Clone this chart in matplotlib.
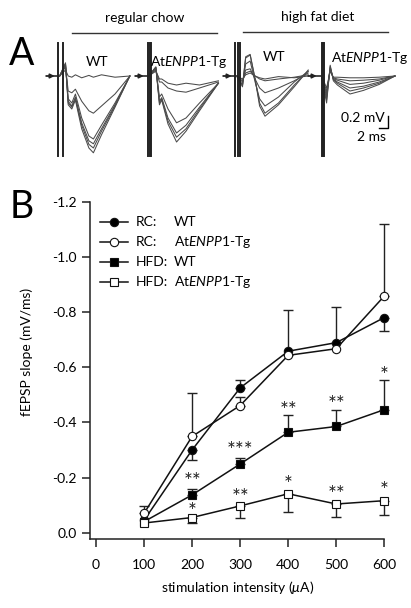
import numpy as np
import matplotlib
matplotlib.use("Agg")
import matplotlib.pyplot as plt

plt.rcParams['font.family'] = ['Lato', 'DejaVu Sans']
plt.rcParams['mathtext.fontset'] = 'custom'
plt.rcParams['mathtext.rm'] = 'Lato'
plt.rcParams['mathtext.it'] = 'Lato:italic'
plt.rcParams['mathtext.bf'] = 'Lato:bold'

# ---------------- datos panel B ----------------
intensidad = [100, 200, 300, 400, 500, 600]

rc_wt = [-0.045, -0.300, -0.525, -0.658, -0.689, -0.780]
rc_tg = [-0.070, -0.349, -0.461, -0.643, -0.667, -0.858]
hfd_wt = [-0.040, -0.137, -0.249, -0.364, -0.385, -0.446]
hfd_tg = [-0.035, -0.055, -0.097, -0.141, -0.104, -0.116]

# barras de error: "arriba" = mas negativo, "abajo" = hacia cero
rc_wt_up = [0.0, 0.0, 0.030, 0.0, 0.130, 0.0]
rc_wt_dn = [0.0, 0.038, 0.0, 0.0, 0.0, 0.047]
rc_tg_up = [0.025, 0.158, 0.030, 0.163, 0.0, 0.261]
rc_tg_dn = [0.0, 0.0, 0.0, 0.0, 0.0, 0.0]
hfd_wt_up = [0.0, 0.021, 0.021, 0.064, 0.059, 0.109]
hfd_wt_dn = [0.0, 0.0, 0.0, 0.0, 0.0, 0.0]
hfd_tg_up = [0.0, 0.0, 0.0, 0.0, 0.0, 0.0]
hfd_tg_dn = [0.0, 0.021, 0.045, 0.065, 0.046, 0.052]

# asteriscos (posicion y, texto)
estrellas_wt_y = [-0.204, -0.313, -0.461, -0.483, -0.585]
estrellas_wt_txt = ["**", "***", "**", "**", "*"]
estrellas_tg_y = [-0.095, -0.143, -0.192, -0.155, -0.170]
estrellas_tg_txt = ["*", "**", "*", "**", "*"]

yticks = [0.0, -0.2, -0.4, -0.6, -0.8, -1.0, -1.2]
xticks = [0, 100, 200, 300, 400, 500, 600]

# ---------------- datos panel A (ms, mV) ----------------
t1 = [-2.2, -0.3, 1.0, 1.6, 2.4, 3.2, 4.6, 6.2, 7.2, 9.0, 12.0, 15.3]
g1 = [
    [0, 0, 0.10, 0.00, -0.02, 0.02, -0.03, 0.01, -0.02, 0.02, -0.02, 0.00],
    [0, 0, 0.15, -0.25, -0.28, -0.22, -0.42, -0.58, -0.62, -0.50, -0.30, 0.00],
    [0, 0, 0.18, -0.38, -0.45, -0.30, -0.70, -1.00, -1.05, -0.82, -0.45, 0.00],
    [0, 0, 0.20, -0.42, -0.50, -0.35, -0.78, -1.08, -1.13, -0.88, -0.48, 0.00],
    [0, 0, 0.20, -0.45, -0.52, -0.38, -0.82, -1.14, -1.20, -0.92, -0.50, 0.00],
    [0, 0, 0.22, -0.48, -0.55, -0.40, -0.88, -1.20, -1.28, -0.98, -0.52, 0.00],
]
t2 = [-2.2, -0.3, 1.3, 2.1, 2.6, 4.0, 5.9, 8.0, 11.0, 15.2]
g2 = [
    [0, 0, 0.08, -0.05, -0.05, -0.12, -0.15, -0.12, -0.15, -0.08],
    [0, 0, 0.10, -0.10, -0.10, -0.20, -0.25, -0.27, -0.20, -0.10],
    [0, 0, 0.12, -0.35, -0.30, -0.55, -0.78, -0.70, -0.45, -0.12],
    [0, 0, 0.14, -0.42, -0.36, -0.70, -0.95, -0.82, -0.52, -0.12],
    [0, 0, 0.15, -0.45, -0.38, -0.75, -1.02, -0.88, -0.55, -0.12],
    [0, 0, 0.15, -0.48, -0.40, -0.80, -1.10, -0.92, -0.58, -0.12],
]
t3 = [-2.2, -0.3, 1.0, 1.7, 2.7, 3.8, 4.8, 6.0, 9.0, 12.5, 15.6]
g3 = [
    [0, 0, -0.05, 0.02, 0.05, 0.00, -0.03, -0.05, -0.01, -0.03, 0.00],
    [0, 0, -0.08, 0.05, 0.08, 0.00, -0.05, -0.08, -0.05, -0.02, 0.02],
    [0, 0, -0.10, 0.10, 0.12, -0.05, -0.20, -0.28, -0.20, -0.08, 0.05],
    [0, 0, -0.15, 0.20, 0.25, -0.10, -0.38, -0.50, -0.35, -0.10, 0.08],
    [0, 0, -0.15, 0.30, 0.35, -0.05, -0.45, -0.62, -0.45, -0.15, 0.08],
    [0, 0, -0.18, 0.32, 0.36, -0.05, -0.50, -0.67, -0.48, -0.18, 0.10],
]
t4 = [-2.2, -0.3, 0.8, 1.6, 2.3, 3.2, 6.0, 9.0, 12.5, 16.0]
g4 = [
    [0, 0, -0.20, 0.08, -0.02, -0.02, -0.03, -0.03, -0.02, 0.00],
    [0, 0, -0.25, 0.10, -0.03, -0.05, -0.08, -0.07, -0.05, 0.00],
    [0, 0, -0.30, 0.12, -0.04, -0.07, -0.14, -0.12, -0.07, 0.00],
    [0, 0, -0.35, 0.14, -0.05, -0.10, -0.20, -0.17, -0.10, 0.00],
    [0, 0, -0.40, 0.16, -0.06, -0.12, -0.25, -0.20, -0.12, 0.00],
    [0, 0, -0.45, 0.18, -0.08, -0.15, -0.30, -0.24, -0.14, 0.00],
]

# ---------------- figura ----------------
W, H = 411, 608
fig = plt.figure(figsize=(W / 100, H / 100), dpi=100)


def fx(px):
    return px / W


def fy(py):
    return 1 - py / H


PX_MS = 4.5    # px por ms
PX_MV = 60.0   # px por mV
BASE = 76      # linea base en px

axA = fig.add_axes([0, fy(160), 1, (160 - 35) / H])
axA.set_xlim(0, W / PX_MS)
axA.set_ylim(-(160 - BASE) / PX_MV, (BASE - 35) / PX_MV)
axA.axis("off")

grupos = [(t1, g1, 61, [-0.7, 0.45]), (t2, g2, 150, [-0.5, 0.0, 0.3]),
          (t3, g3, 238, [-0.6, -0.1, 0.4]), (t4, g4, 323, [-0.3, 0.0, 0.3])]
for tt, trazas, xstim, artef in grupos:
    t0 = xstim / PX_MS
    for v in trazas:
        axA.plot(np.array(tt) + t0, v, color="#4a4a4a", lw=0.75)
    for a in artef:
        axA.plot([t0 + a, t0 + a], [(BASE - 43) / PX_MV, -(156 - BASE) / PX_MV],
                 color="#222222", lw=1.4)
    axA.annotate("", xy=(t0 - 1.4, 0), xytext=(t0 - 3.3, 0),
                 arrowprops=dict(arrowstyle="-|>", lw=1.3, color="#222222",
                                 mutation_scale=6, shrinkA=0, shrinkB=0))

# barra de escala 0.2 mV / 2 ms
xs = 388 / PX_MS
ys = -(128 - BASE) / PX_MV
axA.plot([xs - 2, xs, xs], [ys, ys, ys + 0.2], color="k", lw=1.0)
fig.text(fx(385), fy(118), "0.2 mV", ha="right", va="center", fontsize=10)
fig.text(fx(386), fy(137), "2 ms", ha="right", va="center", fontsize=10)

# titulos panel A
fig.text(fx(22), fy(54), "A", ha="center", va="center", fontsize=27)
fig.text(fx(145), fy(18), "regular chow", ha="center", va="center", fontsize=10)
fig.text(fx(318), fy(17), "high fat diet", ha="center", va="center", fontsize=10)
fig.add_artist(plt.Line2D([fx(72), fx(217)], [fy(33), fy(33)], color="#333333", lw=1.0))
fig.add_artist(plt.Line2D([fx(243), fx(388)], [fy(32), fy(32)], color="#333333", lw=1.0))
fig.text(fx(97), fy(62), "WT", ha="center", va="center", fontsize=10)
fig.text(fx(150), fy(62), r"At$\mathit{ENPP1}$-Tg", ha="left", va="center", fontsize=10)
fig.text(fx(274), fy(57), "WT", ha="center", va="center", fontsize=10)
fig.text(fx(331), fy(58), r"At$\mathit{ENPP1}$-Tg", ha="left", va="center", fontsize=10)

# ---------------- panel B ----------------
axB = fig.add_axes([fx(90), fy(539.3), fx(391.5) - fx(90), (539.3 - 201.7) / H])
axB.set_xlim(-12.5, 615)
axB.set_ylim(0.024, -1.2)
for s in ["top", "right"]:
    axB.spines[s].set_visible(False)
axB.spines["bottom"].set_bounds(-12.5, 600)
for s in ["left", "bottom"]:
    axB.spines[s].set_linewidth(1.1)
    axB.spines[s].set_color("#222222")
axB.set_xticks(xticks)
axB.set_yticks(yticks)
axB.set_yticklabels([f"{v:.1f}" for v in yticks])
axB.tick_params(direction="out", length=6, width=1.1, labelsize=10, color="#222222")
axB.tick_params(axis="x", pad=8)
axB.tick_params(axis="y", pad=3.5)

series = [
    (rc_wt, rc_wt_up, rc_wt_dn, "o", "k"),
    (rc_tg, rc_tg_up, rc_tg_dn, "o", "white"),
    (hfd_wt, hfd_wt_up, hfd_wt_dn, "s", "k"),
    (hfd_tg, hfd_tg_up, hfd_tg_dn, "s", "white"),
]
x = np.array(intensidad)
for y, up, dn, mk, fc in series:
    y = np.array(y)
    up = np.array(up)
    dn = np.array(dn)
    m = up > 0
    if m.any():
        axB.errorbar(x[m], y[m], yerr=[up[m], np.zeros(m.sum())], fmt="none",
                     ecolor="#222222", elinewidth=1.0, capsize=3.5, capthick=1.0, zorder=2)
    m = dn > 0
    if m.any():
        axB.errorbar(x[m], y[m], yerr=[np.zeros(m.sum()), dn[m]], fmt="none",
                     ecolor="#222222", elinewidth=1.0, capsize=3.5, capthick=1.0, zorder=2)
    axB.plot(x, y, color="#111111", lw=1.1, marker=mk, markersize=6,
             markerfacecolor=fc, markeredgecolor="#111111", markeredgewidth=0.8,
             zorder=3, clip_on=False)

# el asterisco de Lato queda alto: texto en la linea base, desplazado hacia abajo
for xs_, ys_, txts in [(intensidad[1:], estrellas_wt_y, estrellas_wt_txt),
                       (intensidad[1:], estrellas_tg_y, estrellas_tg_txt)]:
    for xi, yi, s in zip(xs_, ys_, txts):
        axB.annotate(s, (xi, yi), xytext=(0, -8), textcoords="offset points",
                     ha="center", va="baseline", fontsize=15, color="#222222")

# leyenda manual
leyenda_grupo = ["RC:", "RC:", "HFD:", "HFD:"]
leyenda_gen = ["WT", r"At$\mathit{ENPP1}$-Tg", "WT", r"At$\mathit{ENPP1}$-Tg"]
filas = [221.7, 241.7, 261.7, 281.7]
for (y, up, dn, mk, fc), g, gen, fila in zip(series, leyenda_grupo, leyenda_gen, filas):
    fig.add_artist(plt.Line2D([fx(100), fx(128)], [fy(fila), fy(fila)], color="#111111", lw=1.1))
    fig.add_artist(plt.Line2D([fx(114)], [fy(fila)], marker=mk, markersize=6,
                              markerfacecolor=fc, markeredgecolor="#111111",
                              markeredgewidth=0.8, lw=0))
    fig.text(fx(136), fy(fila), g, ha="left", va="center", fontsize=10)
    fig.text(fx(174), fy(fila), gen, ha="left", va="center", fontsize=10)

fig.text(fx(22), fy(207), "B", ha="center", va="center", fontsize=27)
fig.text(fx(27), fy(352), "fEPSP slope (mV/ms)", ha="center", va="center",
         rotation=90, fontsize=10)
fig.text(fx(238), fy(587), r"stimulation intensity ($\mu$A)", ha="center", va="center",
         fontsize=10)

fig.savefig("out.png", dpi=100)
